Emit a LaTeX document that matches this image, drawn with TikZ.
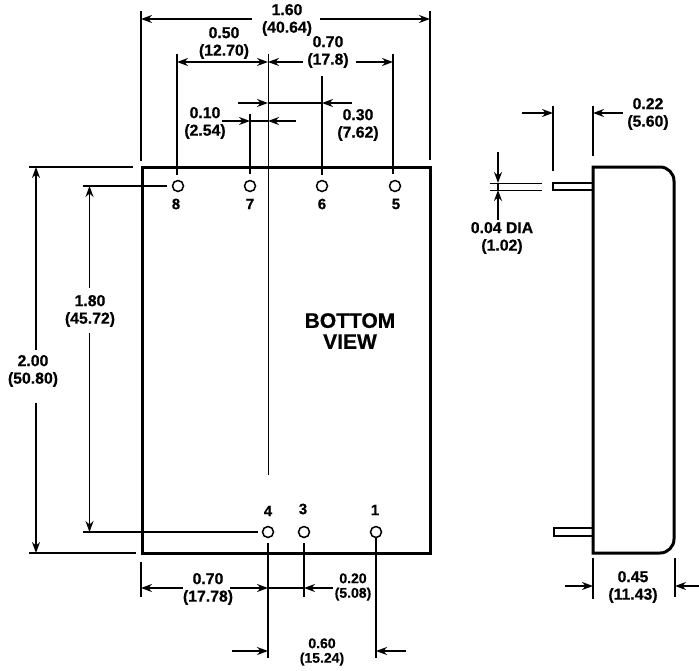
\documentclass[tikz,border=0pt]{standalone}
\usepackage{fontspec}
\setmainfont[BoldFeatures={FakeBold=0.6}]{Liberation Sans}
\usetikzlibrary{arrows.meta}

\begin{document}
\begin{tikzpicture}[x=1pt,y=-1pt,line width=1.6pt,>={Stealth[length=11pt,width=8pt]},
  dimtext/.style={font=\bfseries\fontsize{15.8}{17.5}\selectfont,align=center,inner sep=0pt},
  smalltext/.style={font=\bfseries\fontsize{14}{14.5}\selectfont,align=center,inner sep=0pt},
  pintext/.style={font=\bfseries\fontsize{15}{16}\selectfont,inner sep=0pt},
  pinhole/.style={circle,draw,line width=1.5pt,minimum size=11pt,inner sep=0pt},
  bodyline/.style={line width=3pt}]
\useasboundingbox (0,0) rectangle (699,670);
% bottom view
\draw[bodyline] (142,167) rectangle (430,553);
\node[pinhole] (pin8) at (178,186) {};
\node[pinhole] (pin7) at (250,186) {};
\node[pinhole] (pin6) at (322,186) {};
\node[pinhole] (pin5) at (395,186) {};
\node[pinhole] (pin4) at (268,532) {};
\node[pinhole] (pin3) at (304,532) {};
\node[pinhole] (pin1) at (376,532) {};
\node[pintext] (num8) at (176,204) {8};
\node[pintext] (num7) at (250,204) {7};
\node[pintext] (num6) at (322,204) {6};
\node[pintext] (num5) at (396,204) {5};
\node[pintext] (num4) at (268,511) {4};
\node[pintext] (num3) at (303,509) {3};
\node[pintext] (num1) at (375,510) {1};
\node[font=\bfseries\fontsize{21}{21}\selectfont,align=center,inner sep=0pt] (viewname) at (350,331) {BOTTOM\\VIEW};
% 1.60
\draw (141,11) -- (141,161);
\draw (430,11) -- (430,160);
\draw[<-] (141,19) -- (252,19);
\draw[->] (320,19) -- (430,19);
\node[dimtext] (wide) at (287,20) {1.60\\(40.64)};
% 0.50
\draw (177,54) -- (177,175);
\draw[line width=1pt] (268,54) -- (268,475);
\draw[<->] (177,62) -- (268,62);
\node[dimtext] (pinfive) at (224,43) {0.50\\(12.70)};
% 0.70
\draw (393,54) -- (393,174);
\draw[<-] (268,62) -- (303,62);
\draw[->] (356,62) -- (393,62);
\node[dimtext] (pinseven) at (328,52) {0.70\\(17.8)};
% 0.30
\draw (322,76) -- (322,175);
\draw[->] (238,103) -- (268,103);
\draw (268,103) -- (322,103);
\draw[<-] (322,103) -- (352,103);
\node[dimtext] (pinthree) at (358,125) {0.30\\(7.62)};
% 0.10
\draw (250,114) -- (250,174);
\draw[->] (222,121) -- (250,121);
\draw (250,121) -- (268,121);
\draw[<-] (268,121) -- (296,121);
\node[dimtext] (pinone) at (205,123) {0.10\\(2.54)};
% 2.00
\draw (29,167) -- (133,167);
\draw (29,553) -- (136,553);
\draw[<-] (36,167) -- (36,350);
\draw[->] (36,403) -- (36,553);
\node[dimtext] (tall) at (33,371) {2.00\\(50.80)};
% 1.80
\draw (83,186) -- (167,186);
\draw (83,532) -- (258,532);
\draw[<-] (89.5,186) -- (89.5,288);
\draw[->] (89.5,333) -- (89.5,532);
\node[dimtext] (rows) at (90,311) {1.80\\(45.72)};
% 0.70 below
\draw (141,562) -- (141,597);
\draw (268,543) -- (268,658);
\draw (304,543) -- (304,597);
\draw (376,538) -- (376,658);
\draw[<-] (141,588) -- (183,588);
\draw[->] (230,588) -- (268,588);
\draw (268,588) -- (304,588);
\draw[<-] (304,588) -- (333,588);
\node[dimtext] (offset) at (208,589) {0.70\\(17.78)};
\node[smalltext] (gapthree) at (353,587) {0.20\\(5.08)};
% 0.60
\draw[->] (232,651) -- (268,651);
\draw[<-] (376,651) -- (406,651);
\node[smalltext] (gapone) at (322,652) {0.60\\(15.24)};
% side view
\draw[bodyline] (593,167) -- (660,167) arc (-90:0:14) -- (674,539) arc (0:90:14) -- (593,553) -- cycle;
\draw (593,183) -- (553,183) -- (553,190) -- (593,190);
\draw (593,528) -- (554,528) -- (554,536) -- (593,536);
% 0.04 DIA
\draw[line width=1pt] (490,183) -- (542,183);
\draw[line width=1pt] (490,190) -- (542,190);
\draw[->] (498,152) -- (498,183);
\draw[->] (498,220) -- (498,190);
\draw (498,183) -- (498,190);
\node[dimtext] (dia) at (502,238) {0.04 DIA\\(1.02)};
% 0.22
\draw (553,106) -- (553,171);
\draw (593,106) -- (593,156);
\draw[->] (522,113) -- (553,113);
\draw[->] (623,113) -- (593,113);
\node[dimtext] (pinlen) at (648,114) {0.22\\(5.60)};
% 0.45
\draw (593,558) -- (593,599);
\draw (675,558) -- (675,597);
\draw[->] (565,586) -- (593,586);
\draw[->] (699,586) -- (675,586);
\node[dimtext] (thick) at (633,587) {0.45\\(11.43)};
\end{tikzpicture}
\end{document}
